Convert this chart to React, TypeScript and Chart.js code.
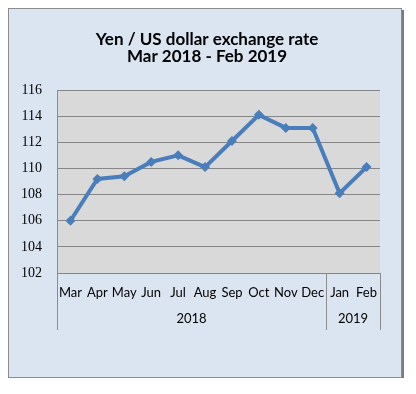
import { useEffect, useRef } from 'react';
import { Chart, registerables } from 'chart.js';

Chart.register(...registerables);

const months = ['Mar', 'Apr', 'May', 'Jun', 'Jul', 'Aug', 'Sep', 'Oct', 'Nov', 'Dec', 'Jan', 'Feb'];
const rates = [106.0, 109.2, 109.4, 110.5, 111.0, 110.1, 112.1, 114.1, 113.1, 113.1, 108.1, 110.1];
const years = ['2018', '2019'];
const yearSpans = [10, 2];
const titleLines = ['Yen / US dollar exchange rate', 'Mar 2018 - Feb 2019'];
const yMin = 102;
const yMax = 116;
const yStep = 2;

const W = 392;
const H = 368;
const SANS = 'Lato, "Open Sans", sans-serif';

const framePlugin = {
  id: 'framePlugin',
  beforeDraw(chart: any) {
    const { ctx, chartArea: a } = chart;
    ctx.save();
    ctx.fillStyle = '#D9D9D9';
    ctx.fillRect(a.left, a.top, a.right - a.left, a.bottom - a.top);
    ctx.restore();
  },
  afterDraw(chart: any) {
    const { ctx, chartArea: a } = chart;
    const x = chart.scales.x;
    const step = x.getPixelForValue(1) - x.getPixelForValue(0);
    ctx.save();
    ctx.strokeStyle = '#8C8C8C';
    ctx.lineWidth = 1;
    ctx.fillStyle = '#000';
    ctx.font = `13px ${SANS}`;
    ctx.textAlign = 'center';
    ctx.textBaseline = 'middle';
    let idx = 0;
    years.forEach((y, i) => {
      const start = idx;
      const end = idx + yearSpans[i] - 1;
      idx += yearSpans[i];
      const left = x.getPixelForValue(start) - step / 2;
      const right = x.getPixelForValue(end) + step / 2;
      [left, right].forEach((px) => {
        const xx = Math.round(px) + 0.5;
        ctx.beginPath();
        ctx.moveTo(xx, a.bottom);
        ctx.lineTo(xx, a.bottom + 57);
        ctx.stroke();
      });
      ctx.fillText(y, (left + right) / 2, a.bottom + 46);
    });
    ctx.font = `bold 17px ${SANS}`;
    titleLines.forEach((t, i) => {
      ctx.fillText(t, 198, 31 + i * 17);
    });
    ctx.restore();
  },
};

export default function App() {
  const ref = useRef<HTMLCanvasElement>(null);
  useEffect(() => {
    if (!ref.current) return;
    const chart = new Chart(ref.current, {
      type: 'line',
      data: {
        labels: months,
        datasets: [
          {
            data: rates,
            borderColor: '#4A7EBB',
            backgroundColor: '#4A7EBB',
            borderWidth: 4,
            pointStyle: 'rectRot',
            pointRadius: 5,
            pointBorderWidth: 0,
            tension: 0,
          },
        ],
      },
      options: {
        responsive: false,
        animation: false,
        layout: { padding: { top: 81, left: 0, right: 21, bottom: 44 } },
        plugins: { legend: { display: false }, title: { display: false }, tooltip: { enabled: false } },
        scales: {
          x: {
            offset: true,
            grid: { display: false },
            border: { display: false },
            ticks: {
              autoSkip: false,
              maxRotation: 0,
              minRotation: 0,
              padding: 4,
              color: '#000',
              font: { family: SANS, size: 13 },
            },
            afterFit(s: any) { s.height = 60; },
          },
          y: {
            min: yMin,
            max: yMax,
            grid: { color: '#868686', drawTicks: false },
            border: { display: true, color: '#8C8C8C' },
            ticks: {
              stepSize: yStep,
              padding: 15,
              color: '#000',
              font: { family: '"Liberation Serif", serif', size: 14 },
            },
            afterFit(s: any) { s.width = 48; },
          },
        },
      },
      plugins: [framePlugin],
    });
    return () => chart.destroy();
  }, []);
  return (
    <div
      style={{
        width: W,
        height: H,
        background: '#DBE5F1',
        border: '1px solid #8C8C8C',
        boxShadow: '2px 2px 0 #7A7A7A',
        position: 'relative',
      }}
    >
      <canvas ref={ref} width={W} height={H} style={{ display: 'block' }} />
    </div>
  );
}
